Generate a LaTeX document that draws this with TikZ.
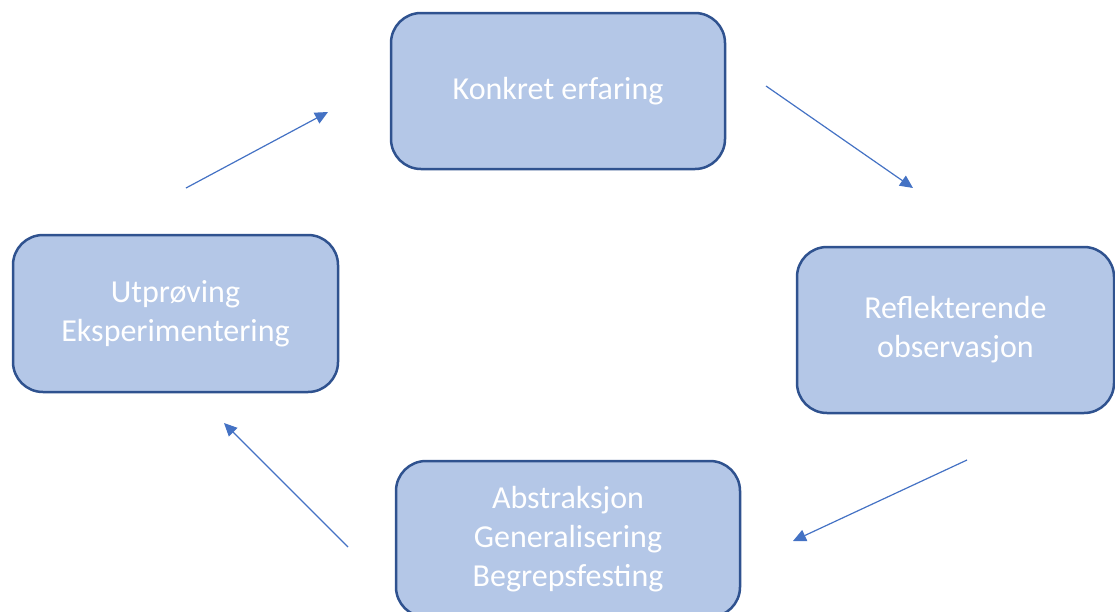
\documentclass[tikz,border=0pt]{standalone}
\usepackage{fontspec}
\setmainfont{Carlito}
\usepackage{tikz}
\usetikzlibrary{arrows.meta}

\definecolor{boxfill}{HTML}{B4C7E7}
\definecolor{boxline}{HTML}{2F528F}
\definecolor{arrowblue}{HTML}{4472C4}

\begin{document}
\begin{tikzpicture}[x=1pt, y=-1pt,
    >={Triangle[length=13pt, width=12pt]},
    stage/.style={rectangle, rounded corners=30pt, draw=boxline, fill=boxfill,
      line width=2.5pt, inner sep=0pt, align=center, text=white,
      font=\fontsize{32}{39}\selectfont},
    flow/.style={->, draw=arrowblue, line width=1.2pt},
  ]
\useasboundingbox (0,0) rectangle (1115,611);
\clip (0,0) rectangle (1115,611);
% Stages
\node(konkret)[stage, minimum width=334pt, minimum height=156pt] at (558,91)
  {Konkret erfaring};
\node(reflekt)[stage, minimum width=317pt, minimum height=166pt] at (955.5,330)
  {Reflekterende\\observasjon};
\node(abstr)[stage, minimum width=344pt, minimum height=156pt] at (568,539)
  {Abstraksjon\\Generalisering\\Begrepsfesting};
\node(utprov)[stage, minimum width=325pt, minimum height=157pt] at (175.5,313.5)
  {Utprøving\\Eksperimentering};
% Free arrow ends
\coordinate (a1s) at (186,188); \coordinate (a1e) at (328,112);
\coordinate (a2s) at (766,86);  \coordinate (a2e) at (913,188);
\coordinate (a3s) at (967,460); \coordinate (a3e) at (793,541);
\coordinate (a4s) at (348,547); \coordinate (a4e) at (224,423);
\draw[flow] (a1s) -- (a1e); \draw[flow] (a2s) -- (a2e);
\draw[flow] (a3s) -- (a3e); \draw[flow] (a4s) -- (a4e);
\end{tikzpicture}
\end{document}
